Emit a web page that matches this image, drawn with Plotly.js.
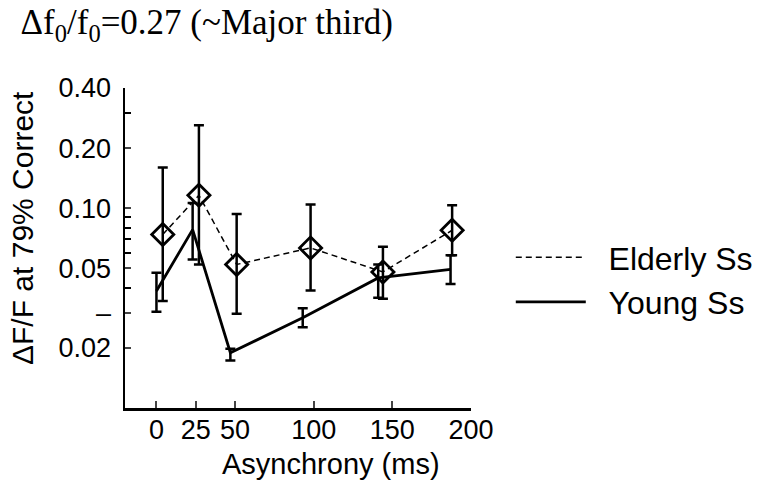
<!DOCTYPE html>
<html>
<head>
<meta charset="utf-8">
<script src="https://cdn.plot.ly/plotly-3.0.1.min.js"></script>
<style>html,body{margin:0;padding:0;background:#fff;}#chart{width:762px;height:494px;}</style>
</head>
<body>
<div id="chart"></div>
<script>
// Asynchrony (ms) positions as plotted (slightly offset per group)
const youngX = [0, 23, 47, 93, 141, 187];
const youngY = [0.0385, 0.0782, 0.0189, 0.0283, 0.0448, 0.0494];
const youngHi = [0.0475, 0.1063, 0.0198, 0.0316, 0.0523, 0.0582];
const youngLo = [0.0303, 0.0554, 0.0173, 0.0254, 0.0356, 0.0418];

const elderX = [4, 27, 51, 98, 144, 188];
const elderY = [0.0739, 0.1161, 0.0523, 0.0633, 0.0480, 0.0776];
const elderHi = [0.160, 0.260, 0.0937, 0.1043, 0.0641, 0.1035];
const elderLo = [0.0343, 0.0523, 0.0296, 0.0388, 0.0352, 0.0582];

const xTickVals = [0, 25, 50, 100, 150, 200];
const yTickVals = [0.4, 0.2, 0.1, 0.05, 0.03, 0.02];
const yTickText = ['0.40', '0.20', '0.10', '0.05', '–', '0.02'];
const yMinorVals = [0.3, 0.09, 0.08, 0.07, 0.06, 0.04];

const plus = (y, hi) => y.map((v, i) => hi[i] - v);
const minus = (y, lo) => y.map((v, i) => v - lo[i]);

const errStyle = {color: '#000', thickness: 2.5, width: 5};
const pad = '\u00a0\u00a0';

const traces = [
  {x: elderX, y: elderY, mode: 'lines', name: pad + 'Elderly Ss', showlegend: true,
   line: {color: '#000', width: 1.5, dash: '6px,4px'}},
  {x: youngX, y: youngY, mode: 'lines', name: pad + 'Young Ss', showlegend: true,
   line: {color: '#000', width: 2.8}},
  {x: youngX, y: youngY, mode: 'markers', showlegend: false, hoverinfo: 'skip',
   marker: {size: 1, color: 'rgba(0,0,0,0)'},
   error_y: Object.assign({type: 'data', symmetric: false, array: plus(youngY, youngHi), arrayminus: minus(youngY, youngLo)}, errStyle)},
  {x: elderX, y: elderY, mode: 'markers', showlegend: false,
   marker: {symbol: 'diamond-open', size: 17, color: '#000', line: {width: 2.8, color: '#000'}},
   error_y: Object.assign({type: 'data', symmetric: false, array: plus(elderY, elderHi), arrayminus: minus(elderY, elderLo)}, errStyle)}
];

const layout = {
  width: 762, height: 494,
  paper_bgcolor: '#fff', plot_bgcolor: '#fff',
  margin: {l: 125, r: 291, t: 88, b: 86, autoexpand: false},
  font: {family: 'Liberation Sans, Arial, sans-serif', color: '#000'},
  title: {text: 'Δf<sub>0</sub>/f<sub>0</sub>=0.27 (~Major third)', font: {family: 'Liberation Serif, Times New Roman, serif', size: 35, color: '#000'},
          xref: 'container', yref: 'container', x: 0.027, xanchor: 'left', y: 0.955, yanchor: 'middle'},
  xaxis: {range: [-20, 200], tickvals: xTickVals, ticks: 'inside', ticklen: 7, tickwidth: 2,
          showline: true, linewidth: 2.5, linecolor: '#000', showgrid: false, zeroline: false,
          tickfont: {size: 27}, ticklabelstandoff: -4},
  yaxis: {type: 'log', range: [-2, Math.log10(0.4)], tickvals: yTickVals, ticktext: yTickText,
          ticks: 'inside', ticklen: 6, tickwidth: 2, showline: true, linewidth: 2.5, linecolor: '#000',
          showgrid: false, zeroline: false, tickfont: {size: 27}, ticklabelstandoff: 6,
          minor: {tickvals: yMinorVals, ticks: 'inside', ticklen: 6, tickwidth: 2, tickcolor: '#000', showgrid: false}},
  annotations: [
    {text: 'Asynchrony (ms)', xref: 'paper', yref: 'paper', x: (331 - 125) / 346, y: -(464 - 408) / 320,
     xanchor: 'center', yanchor: 'middle', showarrow: false, font: {size: 29}},
    {text: 'ΔF/F at 79% Correct', xref: 'paper', yref: 'paper', x: -(125 - 22) / 346, y: (408 - 228) / 320,
     xanchor: 'center', yanchor: 'middle', textangle: -90, showarrow: false, font: {size: 30}}
  ],
  legend: {x: 1.115, xanchor: 'left', y: 0.40, yanchor: 'middle', font: {size: 32},
           itemwidth: 70, bgcolor: 'rgba(0,0,0,0)', tracegroupgap: 0},
  showlegend: true
};

Plotly.newPlot('chart', traces, layout, {displayModeBar: false, staticPlot: true});
</script>
</body>
</html>
